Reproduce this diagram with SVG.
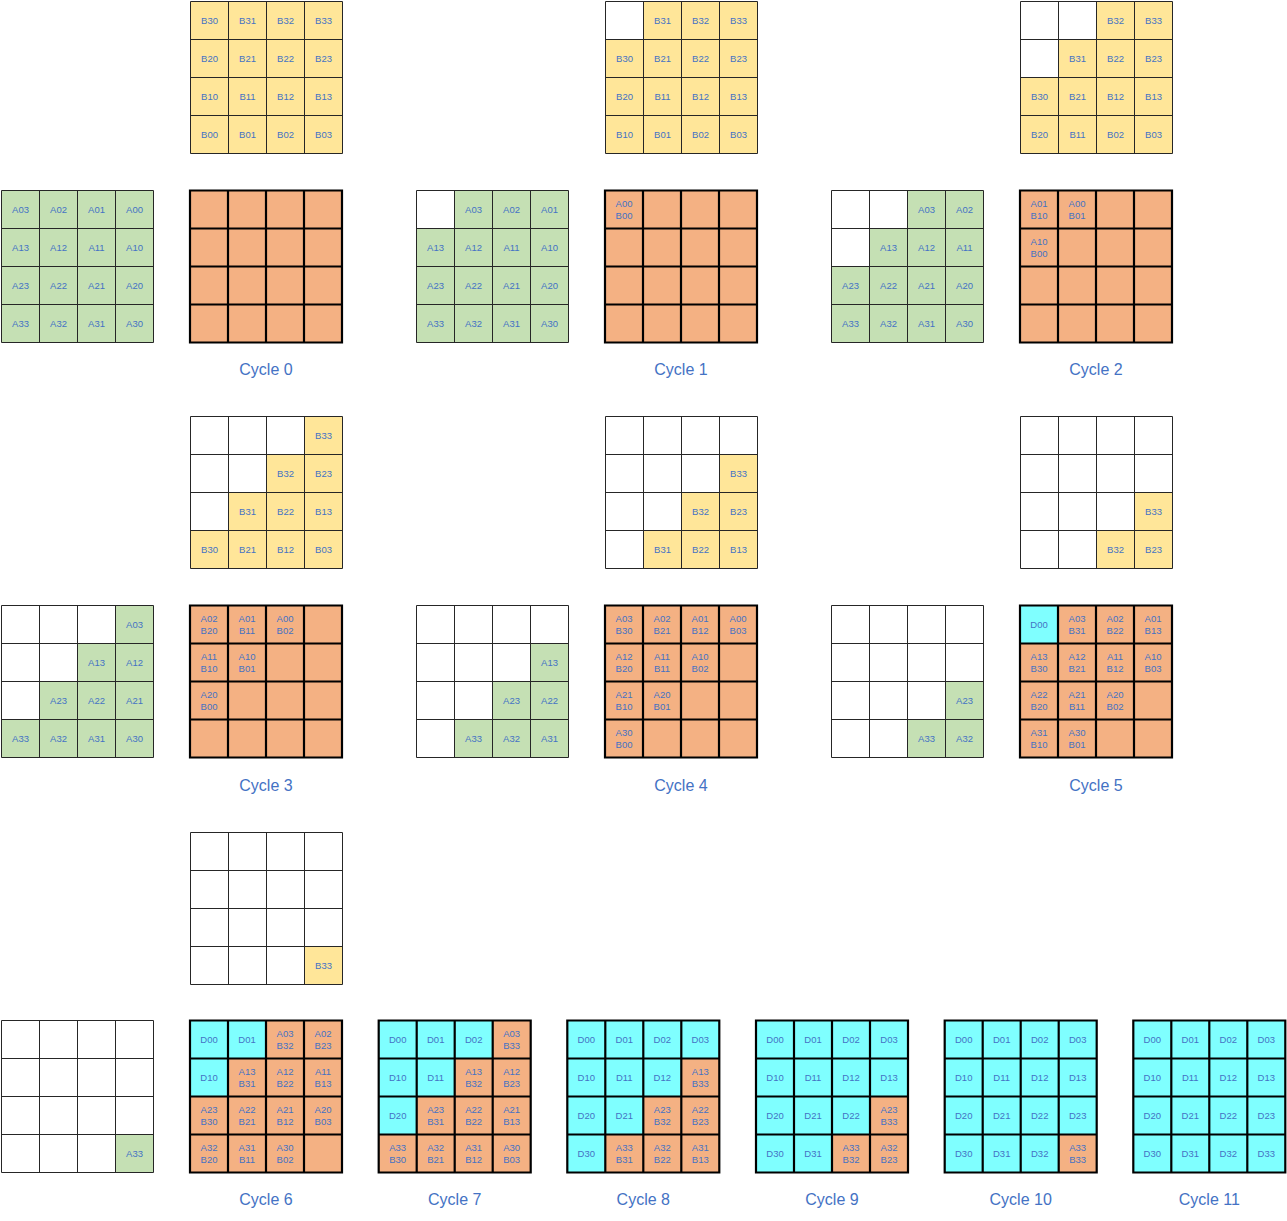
<svg xmlns="http://www.w3.org/2000/svg" xmlns:xlink="http://www.w3.org/1999/xlink" width="1287" height="1221" viewBox="0 0 1287 1221">
<style>
text { font-family: "Liberation Sans", Arial, sans-serif; font-size: 9.5px; fill: #4472C4; text-anchor: middle; }
text.lbl { font-size: 16px; }
.thin { fill: none; stroke: #262626; stroke-width: 1; }
.thick { fill: none; stroke: #000; stroke-width: 2.2; }
.y { fill: #FFE699; }
.g { fill: #C5E0B4; }
.o { fill: #F4B183; }
.c { fill: #7FFFFF; }
</style>
<defs>
<path id="gl" d="M0 0H152V152H0Z M38 0V152 M76 0V152 M114 0V152 M0 38H152 M0 76H152 M0 114H152"/>
</defs>
<rect width="1287" height="1221" fill="#fff"/>
<g id="connectors"/>

<!-- Cycle 0 -->
<g id="c0-b" transform="translate(190.5,1.5)">
<rect class="y" width="152" height="152"/>
<use href="#gl" class="thin"/>
<text x="19" y="22.5">B30</text><text x="57" y="22.5">B31</text><text x="95" y="22.5">B32</text><text x="133" y="22.5">B33</text>
<text x="19" y="60.5">B20</text><text x="57" y="60.5">B21</text><text x="95" y="60.5">B22</text><text x="133" y="60.5">B23</text>
<text x="19" y="98.5">B10</text><text x="57" y="98.5">B11</text><text x="95" y="98.5">B12</text><text x="133" y="98.5">B13</text>
<text x="19" y="136.5">B00</text><text x="57" y="136.5">B01</text><text x="95" y="136.5">B02</text><text x="133" y="136.5">B03</text>
</g>
<g id="c0-a" transform="translate(1.5,190.5)">
<rect class="g" width="152" height="152"/>
<use href="#gl" class="thin"/>
<text x="19" y="22.5">A03</text><text x="57" y="22.5">A02</text><text x="95" y="22.5">A01</text><text x="133" y="22.5">A00</text>
<text x="19" y="60.5">A13</text><text x="57" y="60.5">A12</text><text x="95" y="60.5">A11</text><text x="133" y="60.5">A10</text>
<text x="19" y="98.5">A23</text><text x="57" y="98.5">A22</text><text x="95" y="98.5">A21</text><text x="133" y="98.5">A20</text>
<text x="19" y="136.5">A33</text><text x="57" y="136.5">A32</text><text x="95" y="136.5">A31</text><text x="133" y="136.5">A30</text>
</g>
<g id="c0-c" transform="translate(190,190.5)">
<rect class="o" width="152" height="152"/>
<use href="#gl" class="thick"/>
</g>
<text class="lbl" x="266" y="375">Cycle 0</text>

<!-- Cycle 1 -->
<g id="c1-b" transform="translate(605.5,1.5)">
<rect class="y" x="38" y="0" width="114" height="38"/><rect class="y" x="0" y="38" width="152" height="114"/>
<use href="#gl" class="thin"/>
<text x="57" y="22.5">B31</text><text x="95" y="22.5">B32</text><text x="133" y="22.5">B33</text>
<text x="19" y="60.5">B30</text><text x="57" y="60.5">B21</text><text x="95" y="60.5">B22</text><text x="133" y="60.5">B23</text>
<text x="19" y="98.5">B20</text><text x="57" y="98.5">B11</text><text x="95" y="98.5">B12</text><text x="133" y="98.5">B13</text>
<text x="19" y="136.5">B10</text><text x="57" y="136.5">B01</text><text x="95" y="136.5">B02</text><text x="133" y="136.5">B03</text>
</g>
<g id="c1-a" transform="translate(416.5,190.5)">
<rect class="g" x="38" y="0" width="114" height="38"/><rect class="g" x="0" y="38" width="152" height="114"/>
<use href="#gl" class="thin"/>
<text x="57" y="22.5">A03</text><text x="95" y="22.5">A02</text><text x="133" y="22.5">A01</text>
<text x="19" y="60.5">A13</text><text x="57" y="60.5">A12</text><text x="95" y="60.5">A11</text><text x="133" y="60.5">A10</text>
<text x="19" y="98.5">A23</text><text x="57" y="98.5">A22</text><text x="95" y="98.5">A21</text><text x="133" y="98.5">A20</text>
<text x="19" y="136.5">A33</text><text x="57" y="136.5">A32</text><text x="95" y="136.5">A31</text><text x="133" y="136.5">A30</text>
</g>
<g id="c1-c" transform="translate(605,190.5)">
<rect class="o" width="152" height="152"/>
<use href="#gl" class="thick"/>
<text x="19" y="16">A00<tspan x="19" dy="12.6">B00</tspan></text>
</g>
<text class="lbl" x="681" y="375">Cycle 1</text>

<!-- Cycle 2 -->
<g id="c2-b" transform="translate(1020.5,1.5)">
<rect class="y" x="76" y="0" width="76" height="38"/><rect class="y" x="38" y="38" width="114" height="38"/><rect class="y" x="0" y="76" width="152" height="76"/>
<use href="#gl" class="thin"/>
<text x="95" y="22.5">B32</text><text x="133" y="22.5">B33</text>
<text x="57" y="60.5">B31</text><text x="95" y="60.5">B22</text><text x="133" y="60.5">B23</text>
<text x="19" y="98.5">B30</text><text x="57" y="98.5">B21</text><text x="95" y="98.5">B12</text><text x="133" y="98.5">B13</text>
<text x="19" y="136.5">B20</text><text x="57" y="136.5">B11</text><text x="95" y="136.5">B02</text><text x="133" y="136.5">B03</text>
</g>
<g id="c2-a" transform="translate(831.5,190.5)">
<rect class="g" x="76" y="0" width="76" height="38"/><rect class="g" x="38" y="38" width="114" height="38"/><rect class="g" x="0" y="76" width="152" height="76"/>
<use href="#gl" class="thin"/>
<text x="95" y="22.5">A03</text><text x="133" y="22.5">A02</text>
<text x="57" y="60.5">A13</text><text x="95" y="60.5">A12</text><text x="133" y="60.5">A11</text>
<text x="19" y="98.5">A23</text><text x="57" y="98.5">A22</text><text x="95" y="98.5">A21</text><text x="133" y="98.5">A20</text>
<text x="19" y="136.5">A33</text><text x="57" y="136.5">A32</text><text x="95" y="136.5">A31</text><text x="133" y="136.5">A30</text>
</g>
<g id="c2-c" transform="translate(1020,190.5)">
<rect class="o" width="152" height="152"/>
<use href="#gl" class="thick"/>
<text x="19" y="16">A01<tspan x="19" dy="12.6">B10</tspan></text>
<text x="57" y="16">A00<tspan x="57" dy="12.6">B01</tspan></text>
<text x="19" y="54">A10<tspan x="19" dy="12.6">B00</tspan></text>
</g>
<text class="lbl" x="1096" y="375">Cycle 2</text>

<!-- Cycle 3 -->
<g id="c3-b" transform="translate(190.5,416.5)">
<rect class="y" x="114" y="0" width="38" height="38"/><rect class="y" x="76" y="38" width="76" height="38"/><rect class="y" x="38" y="76" width="114" height="38"/><rect class="y" x="0" y="114" width="152" height="38"/>
<use href="#gl" class="thin"/>
<text x="133" y="22.5">B33</text>
<text x="95" y="60.5">B32</text><text x="133" y="60.5">B23</text>
<text x="57" y="98.5">B31</text><text x="95" y="98.5">B22</text><text x="133" y="98.5">B13</text>
<text x="19" y="136.5">B30</text><text x="57" y="136.5">B21</text><text x="95" y="136.5">B12</text><text x="133" y="136.5">B03</text>
</g>
<g id="c3-a" transform="translate(1.5,605.5)">
<rect class="g" x="114" y="0" width="38" height="38"/><rect class="g" x="76" y="38" width="76" height="38"/><rect class="g" x="38" y="76" width="114" height="38"/><rect class="g" x="0" y="114" width="152" height="38"/>
<use href="#gl" class="thin"/>
<text x="133" y="22.5">A03</text>
<text x="95" y="60.5">A13</text><text x="133" y="60.5">A12</text>
<text x="57" y="98.5">A23</text><text x="95" y="98.5">A22</text><text x="133" y="98.5">A21</text>
<text x="19" y="136.5">A33</text><text x="57" y="136.5">A32</text><text x="95" y="136.5">A31</text><text x="133" y="136.5">A30</text>
</g>
<g id="c3-c" transform="translate(190,605.5)">
<rect class="o" width="152" height="152"/>
<use href="#gl" class="thick"/>
<text x="19" y="16">A02<tspan x="19" dy="12.6">B20</tspan></text>
<text x="57" y="16">A01<tspan x="57" dy="12.6">B11</tspan></text>
<text x="95" y="16">A00<tspan x="95" dy="12.6">B02</tspan></text>
<text x="19" y="54">A11<tspan x="19" dy="12.6">B10</tspan></text>
<text x="57" y="54">A10<tspan x="57" dy="12.6">B01</tspan></text>
<text x="19" y="92">A20<tspan x="19" dy="12.6">B00</tspan></text>
</g>
<text class="lbl" x="266" y="791">Cycle 3</text>

<!-- Cycle 4 -->
<g id="c4-b" transform="translate(605.5,416.5)">
<rect class="y" x="114" y="38" width="38" height="38"/><rect class="y" x="76" y="76" width="76" height="38"/><rect class="y" x="38" y="114" width="114" height="38"/>
<use href="#gl" class="thin"/>
<text x="133" y="60.5">B33</text>
<text x="95" y="98.5">B32</text><text x="133" y="98.5">B23</text>
<text x="57" y="136.5">B31</text><text x="95" y="136.5">B22</text><text x="133" y="136.5">B13</text>
</g>
<g id="c4-a" transform="translate(416.5,605.5)">
<rect class="g" x="114" y="38" width="38" height="38"/><rect class="g" x="76" y="76" width="76" height="38"/><rect class="g" x="38" y="114" width="114" height="38"/>
<use href="#gl" class="thin"/>
<text x="133" y="60.5">A13</text>
<text x="95" y="98.5">A23</text><text x="133" y="98.5">A22</text>
<text x="57" y="136.5">A33</text><text x="95" y="136.5">A32</text><text x="133" y="136.5">A31</text>
</g>
<g id="c4-c" transform="translate(605,605.5)">
<rect class="o" width="152" height="152"/>
<use href="#gl" class="thick"/>
<text x="19" y="16">A03<tspan x="19" dy="12.6">B30</tspan></text>
<text x="57" y="16">A02<tspan x="57" dy="12.6">B21</tspan></text>
<text x="95" y="16">A01<tspan x="95" dy="12.6">B12</tspan></text>
<text x="133" y="16">A00<tspan x="133" dy="12.6">B03</tspan></text>
<text x="19" y="54">A12<tspan x="19" dy="12.6">B20</tspan></text>
<text x="57" y="54">A11<tspan x="57" dy="12.6">B11</tspan></text>
<text x="95" y="54">A10<tspan x="95" dy="12.6">B02</tspan></text>
<text x="19" y="92">A21<tspan x="19" dy="12.6">B10</tspan></text>
<text x="57" y="92">A20<tspan x="57" dy="12.6">B01</tspan></text>
<text x="19" y="130">A30<tspan x="19" dy="12.6">B00</tspan></text>
</g>
<text class="lbl" x="681" y="791">Cycle 4</text>

<!-- Cycle 5 -->
<g id="c5-b" transform="translate(1020.5,416.5)">
<rect class="y" x="114" y="76" width="38" height="38"/><rect class="y" x="76" y="114" width="76" height="38"/>
<use href="#gl" class="thin"/>
<text x="133" y="98.5">B33</text>
<text x="95" y="136.5">B32</text><text x="133" y="136.5">B23</text>
</g>
<g id="c5-a" transform="translate(831.5,605.5)">
<rect class="g" x="114" y="76" width="38" height="38"/><rect class="g" x="76" y="114" width="76" height="38"/>
<use href="#gl" class="thin"/>
<text x="133" y="98.5">A23</text>
<text x="95" y="136.5">A33</text><text x="133" y="136.5">A32</text>
</g>
<g id="c5-c" transform="translate(1020,605.5)">
<rect class="o" width="152" height="152"/>
<rect class="c" width="38" height="38"/>
<use href="#gl" class="thick"/>
<text x="19" y="22.5">D00</text>
<text x="57" y="16">A03<tspan x="57" dy="12.6">B31</tspan></text>
<text x="95" y="16">A02<tspan x="95" dy="12.6">B22</tspan></text>
<text x="133" y="16">A01<tspan x="133" dy="12.6">B13</tspan></text>
<text x="19" y="54">A13<tspan x="19" dy="12.6">B30</tspan></text>
<text x="57" y="54">A12<tspan x="57" dy="12.6">B21</tspan></text>
<text x="95" y="54">A11<tspan x="95" dy="12.6">B12</tspan></text>
<text x="133" y="54">A10<tspan x="133" dy="12.6">B03</tspan></text>
<text x="19" y="92">A22<tspan x="19" dy="12.6">B20</tspan></text>
<text x="57" y="92">A21<tspan x="57" dy="12.6">B11</tspan></text>
<text x="95" y="92">A20<tspan x="95" dy="12.6">B02</tspan></text>
<text x="19" y="130">A31<tspan x="19" dy="12.6">B10</tspan></text>
<text x="57" y="130">A30<tspan x="57" dy="12.6">B01</tspan></text>
</g>
<text class="lbl" x="1096" y="791">Cycle 5</text>

<!-- Cycle 6 -->
<g id="c6-b" transform="translate(190.5,832.5)">
<rect class="y" x="114" y="114" width="38" height="38"/>
<use href="#gl" class="thin"/>
<text x="133" y="136.5">B33</text>
</g>
<g id="c6-a" transform="translate(1.5,1020.5)">
<rect class="g" x="114" y="114" width="38" height="38"/>
<use href="#gl" class="thin"/>
<text x="133" y="136.5">A33</text>
</g>
<g id="c6-c" transform="translate(190,1020.5)">
<rect class="o" width="152" height="152"/>
<rect class="c" width="76" height="38"/><rect class="c" y="38" width="38" height="38"/>
<use href="#gl" class="thick"/>
<text x="19" y="22.5">D00</text><text x="57" y="22.5">D01</text>
<text x="95" y="16">A03<tspan x="95" dy="12.6">B32</tspan></text>
<text x="133" y="16">A02<tspan x="133" dy="12.6">B23</tspan></text>
<text x="19" y="60.5">D10</text>
<text x="57" y="54">A13<tspan x="57" dy="12.6">B31</tspan></text>
<text x="95" y="54">A12<tspan x="95" dy="12.6">B22</tspan></text>
<text x="133" y="54">A11<tspan x="133" dy="12.6">B13</tspan></text>
<text x="19" y="92">A23<tspan x="19" dy="12.6">B30</tspan></text>
<text x="57" y="92">A22<tspan x="57" dy="12.6">B21</tspan></text>
<text x="95" y="92">A21<tspan x="95" dy="12.6">B12</tspan></text>
<text x="133" y="92">A20<tspan x="133" dy="12.6">B03</tspan></text>
<text x="19" y="130">A32<tspan x="19" dy="12.6">B20</tspan></text>
<text x="57" y="130">A31<tspan x="57" dy="12.6">B11</tspan></text>
<text x="95" y="130">A30<tspan x="95" dy="12.6">B02</tspan></text>
</g>
<text class="lbl" x="266" y="1205">Cycle 6</text>

<!-- Cycle 7 -->
<g id="c7-c" transform="translate(378.7,1020.5)">
<rect class="o" width="152" height="152"/>
<rect class="c" width="114" height="38"/><rect class="c" y="38" width="76" height="38"/><rect class="c" y="76" width="38" height="38"/>
<use href="#gl" class="thick"/>
<text x="19" y="22.5">D00</text><text x="57" y="22.5">D01</text><text x="95" y="22.5">D02</text>
<text x="133" y="16">A03<tspan x="133" dy="12.6">B33</tspan></text>
<text x="19" y="60.5">D10</text><text x="57" y="60.5">D11</text>
<text x="95" y="54">A13<tspan x="95" dy="12.6">B32</tspan></text>
<text x="133" y="54">A12<tspan x="133" dy="12.6">B23</tspan></text>
<text x="19" y="98.5">D20</text>
<text x="57" y="92">A23<tspan x="57" dy="12.6">B31</tspan></text>
<text x="95" y="92">A22<tspan x="95" dy="12.6">B22</tspan></text>
<text x="133" y="92">A21<tspan x="133" dy="12.6">B13</tspan></text>
<text x="19" y="130">A33<tspan x="19" dy="12.6">B30</tspan></text>
<text x="57" y="130">A32<tspan x="57" dy="12.6">B21</tspan></text>
<text x="95" y="130">A31<tspan x="95" dy="12.6">B12</tspan></text>
<text x="133" y="130">A30<tspan x="133" dy="12.6">B03</tspan></text>
</g>
<text class="lbl" x="454.7" y="1205">Cycle 7</text>

<!-- Cycle 8 -->
<g id="c8-c" transform="translate(567.3,1020.5)">
<rect class="c" width="152" height="152"/>
<rect class="o" x="114" y="38" width="38" height="38"/><rect class="o" x="76" y="76" width="76" height="38"/><rect class="o" x="38" y="114" width="114" height="38"/>
<use href="#gl" class="thick"/>
<text x="19" y="22.5">D00</text><text x="57" y="22.5">D01</text><text x="95" y="22.5">D02</text><text x="133" y="22.5">D03</text>
<text x="19" y="60.5">D10</text><text x="57" y="60.5">D11</text><text x="95" y="60.5">D12</text>
<text x="133" y="54">A13<tspan x="133" dy="12.6">B33</tspan></text>
<text x="19" y="98.5">D20</text><text x="57" y="98.5">D21</text>
<text x="95" y="92">A23<tspan x="95" dy="12.6">B32</tspan></text>
<text x="133" y="92">A22<tspan x="133" dy="12.6">B23</tspan></text>
<text x="19" y="136.5">D30</text>
<text x="57" y="130">A33<tspan x="57" dy="12.6">B31</tspan></text>
<text x="95" y="130">A32<tspan x="95" dy="12.6">B22</tspan></text>
<text x="133" y="130">A31<tspan x="133" dy="12.6">B13</tspan></text>
</g>
<text class="lbl" x="643.3" y="1205">Cycle 8</text>

<!-- Cycle 9 -->
<g id="c9-c" transform="translate(756,1020.5)">
<rect class="c" width="152" height="152"/>
<rect class="o" x="114" y="76" width="38" height="38"/><rect class="o" x="76" y="114" width="76" height="38"/>
<use href="#gl" class="thick"/>
<text x="19" y="22.5">D00</text><text x="57" y="22.5">D01</text><text x="95" y="22.5">D02</text><text x="133" y="22.5">D03</text>
<text x="19" y="60.5">D10</text><text x="57" y="60.5">D11</text><text x="95" y="60.5">D12</text><text x="133" y="60.5">D13</text>
<text x="19" y="98.5">D20</text><text x="57" y="98.5">D21</text><text x="95" y="98.5">D22</text>
<text x="133" y="92">A23<tspan x="133" dy="12.6">B33</tspan></text>
<text x="19" y="136.5">D30</text><text x="57" y="136.5">D31</text>
<text x="95" y="130">A33<tspan x="95" dy="12.6">B32</tspan></text>
<text x="133" y="130">A32<tspan x="133" dy="12.6">B23</tspan></text>
</g>
<text class="lbl" x="832" y="1205">Cycle 9</text>

<!-- Cycle 10 -->
<g id="c10-c" transform="translate(944.7,1020.5)">
<rect class="c" width="152" height="152"/>
<rect class="o" x="114" y="114" width="38" height="38"/>
<use href="#gl" class="thick"/>
<text x="19" y="22.5">D00</text><text x="57" y="22.5">D01</text><text x="95" y="22.5">D02</text><text x="133" y="22.5">D03</text>
<text x="19" y="60.5">D10</text><text x="57" y="60.5">D11</text><text x="95" y="60.5">D12</text><text x="133" y="60.5">D13</text>
<text x="19" y="98.5">D20</text><text x="57" y="98.5">D21</text><text x="95" y="98.5">D22</text><text x="133" y="98.5">D23</text>
<text x="19" y="136.5">D30</text><text x="57" y="136.5">D31</text><text x="95" y="136.5">D32</text>
<text x="133" y="130">A33<tspan x="133" dy="12.6">B33</tspan></text>
</g>
<text class="lbl" x="1020.7" y="1205">Cycle 10</text>

<!-- Cycle 11 -->
<g id="c11-c" transform="translate(1133.3,1020.5)">
<rect class="c" width="152" height="152"/>
<use href="#gl" class="thick"/>
<text x="19" y="22.5">D00</text><text x="57" y="22.5">D01</text><text x="95" y="22.5">D02</text><text x="133" y="22.5">D03</text>
<text x="19" y="60.5">D10</text><text x="57" y="60.5">D11</text><text x="95" y="60.5">D12</text><text x="133" y="60.5">D13</text>
<text x="19" y="98.5">D20</text><text x="57" y="98.5">D21</text><text x="95" y="98.5">D22</text><text x="133" y="98.5">D23</text>
<text x="19" y="136.5">D30</text><text x="57" y="136.5">D31</text><text x="95" y="136.5">D32</text><text x="133" y="136.5">D33</text>
</g>
<text class="lbl" x="1209.3" y="1205">Cycle 11</text>
</svg>
